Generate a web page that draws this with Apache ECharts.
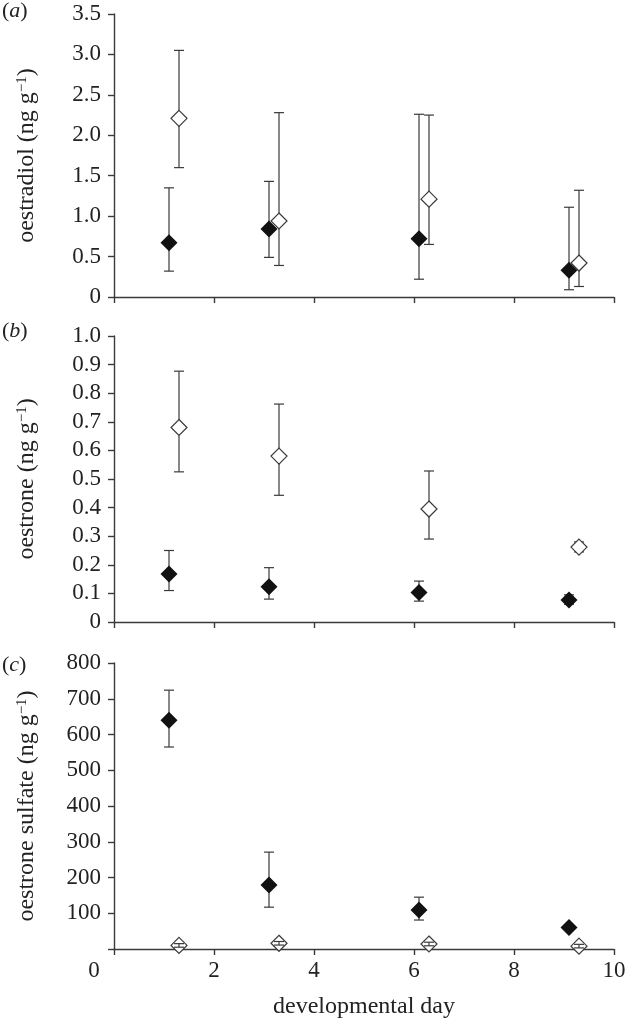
<!DOCTYPE html>
<html>
<head>
<meta charset="utf-8">
<script src="https://cdn.jsdelivr.net/npm/echarts@6/dist/echarts.min.js"></script>
<style>
  html, body { margin: 0; padding: 0; background: #fff; }
  #chart { width: 634px; height: 1020px; }
</style>
</head>
<body>
<div id="chart"></div>
<script>
// sampling days (filled and open diamonds are offset slightly)
const filledDays = [1.1, 3.1, 6.1, 9.1];
const openDays = [1.3, 3.3, 6.3, 9.3];

// (a) oestradiol, ng/g
const e2Filled = [0.67, 0.84, 0.72, 0.33];
const e2FilledLo = [0.32, 0.49, 0.22, 0.09];
const e2FilledHi = [1.35, 1.43, 2.26, 1.11];
const e2Open = [2.21, 0.94, 1.21, 0.42];
const e2OpenLo = [1.6, 0.39, 0.65, 0.13];
const e2OpenHi = [3.05, 2.28, 2.25, 1.32];

// (b) oestrone, ng/g
const e1Filled = [0.168, 0.123, 0.103, 0.077];
const e1FilledLo = [0.11, 0.08, 0.073, 0.062];
const e1FilledHi = [0.25, 0.19, 0.143, 0.095];
const e1Open = [0.68, 0.58, 0.395, 0.262];
const e1OpenLo = [0.525, 0.443, 0.29, 0.245];
const e1OpenHi = [0.877, 0.762, 0.528, 0.28];

// (c) oestrone sulfate, ng/g
const e1sFilled = [640, 179, 109, 60];
const e1sFilledLo = [565, 117, 81, 52];
const e1sFilledHi = [724, 271, 145, 66];
const e1sOpen = [10, 16, 14, 8];
const e1sOpenLo = [5, 11, 9, 3];
const e1sOpenHi = [15, 21, 19, 13];

const FONT = 'Liberation Serif';
const FS = 23;       // tick labels
const FS_NAME = 24;  // axis titles
const TXT = '#222';
const LINE = '#3a3a3a';

const chart = echarts.init(document.getElementById('chart'));

function zip3(x, lo, hi) {
  return x.map((v, i) => [v, lo[i], hi[i]]);
}
function zip2(x, y) {
  return x.map((v, i) => [v, y[i]]);
}

// vertical error bar with caps
function renderErr(params, api) {
  const x = api.value(0);
  const lo = api.coord([x, api.value(1)]);
  const hi = api.coord([x, api.value(2)]);
  const w = 5;
  const st = { stroke: LINE, lineWidth: 1.2 };
  return {
    type: 'group',
    children: [
      { type: 'line', shape: { x1: lo[0], y1: lo[1], x2: hi[0], y2: hi[1] }, style: st },
      { type: 'line', shape: { x1: lo[0] - w, y1: lo[1], x2: lo[0] + w, y2: lo[1] }, style: st },
      { type: 'line', shape: { x1: hi[0] - w, y1: hi[1], x2: hi[0] + w, y2: hi[1] }, style: st }
    ]
  };
}

const grids = [
  { left: 114, right: 20, top: 14, height: 283 },
  { left: 114, right: 20, top: 336, height: 286 },
  { left: 114, right: 20, top: 663, height: 286 }
];

function xAxisFor(i, last) {
  return {
    type: 'value', gridIndex: i, min: 0, max: 10, interval: 2,
    axisLine: { lineStyle: { color: LINE, width: 1.4 } },
    axisTick: { show: true, length: 6, lineStyle: { color: LINE, width: 1.4 } },
    splitLine: { show: false },
    axisLabel: last ? {
      show: true, margin: 10, fontFamily: FONT, fontSize: FS, color: TXT,
      formatter: v => v === 0 ? '{z|0}' : String(v),
      rich: { z: { fontFamily: FONT, fontSize: FS, color: TXT, padding: [0, 40, 0, 0] } }
    } : { show: false },
    name: last ? 'developmental day' : '',
    nameLocation: 'middle', nameGap: 46,
    nameTextStyle: { fontFamily: FONT, fontSize: FS_NAME, color: TXT }
  };
}

const nameRich = {
  n: { fontFamily: FONT, fontSize: FS_NAME, color: TXT },
  s: { fontFamily: FONT, fontSize: 15, color: TXT, verticalAlign: 'top' }
};

function yAxisFor(i, min, max, interval, fmt, name) {
  return {
    type: 'value', gridIndex: i, min: min, max: max, interval: interval,
    axisLine: { show: true, lineStyle: { color: LINE, width: 1.4 } },
    axisTick: { show: true, length: 6, lineStyle: { color: LINE, width: 1.4 } },
    splitLine: { show: false },
    axisLabel: { margin: 13, fontFamily: FONT, fontSize: FS, color: TXT, formatter: fmt },
    name: '{n|' + name + ' (ng g}{s|−1}{n|)}',
    nameLocation: 'middle', nameRotate: 90, nameGap: 75,
    nameTextStyle: { rich: nameRich }
  };
}

function panelSeries(i, fx, fy, flo, fhi, ox, oy, olo, ohi, openBarsOnTop) {
  return [
    {
      type: 'custom', xAxisIndex: i, yAxisIndex: i, renderItem: renderErr,
      encode: { x: 0, y: [1, 2] }, data: zip3(fx, flo, fhi), z: 2, silent: true
    },
    {
      type: 'custom', xAxisIndex: i, yAxisIndex: i, renderItem: renderErr,
      encode: { x: 0, y: [1, 2] }, data: zip3(ox, olo, ohi), z: openBarsOnTop ? 5 : 2, silent: true
    },
    {
      type: 'scatter', xAxisIndex: i, yAxisIndex: i, symbol: 'diamond', symbolSize: 17,
      itemStyle: { color: '#111', opacity: 1 }, data: zip2(fx, fy), z: 3
    },
    {
      type: 'scatter', xAxisIndex: i, yAxisIndex: i, symbol: 'diamond', symbolSize: 16,
      itemStyle: { color: '#fff', borderColor: LINE, borderWidth: 1.2, opacity: 1 },
      data: zip2(ox, oy), z: 3
    }
  ];
}

const panelLabelRich = {
  n: { fontFamily: FONT, fontSize: 22, color: TXT, fontWeight: 'normal' },
  i: { fontFamily: FONT, fontSize: 22, color: TXT, fontWeight: 'normal', fontStyle: 'italic' }
};
function panelLabel(letter, top) {
  return {
    text: '{n|(}{i|' + letter + '}{n|)}', left: 2, top: top, padding: 0,
    textStyle: { fontWeight: 'normal', rich: panelLabelRich }
  };
}

const option = {
  backgroundColor: '#fff',
  animation: false,
  title: [panelLabel('a', 0), panelLabel('b', 320), panelLabel('c', 654)],
  grid: grids,
  xAxis: [xAxisFor(0, false), xAxisFor(1, false), xAxisFor(2, true)],
  yAxis: [
    yAxisFor(0, 0, 3.5, 0.5, v => v === 0 ? '0' : v.toFixed(1), 'oestradiol'),
    yAxisFor(1, 0, 1.0, 0.1, v => v === 0 ? '0' : v.toFixed(1), 'oestrone'),
    yAxisFor(2, 0, 800, 100, v => v === 0 ? '' : String(v), 'oestrone sulfate')
  ],
  series: [].concat(
    panelSeries(0, filledDays, e2Filled, e2FilledLo, e2FilledHi, openDays, e2Open, e2OpenLo, e2OpenHi, false),
    panelSeries(1, filledDays, e1Filled, e1FilledLo, e1FilledHi, openDays, e1Open, e1OpenLo, e1OpenHi, false),
    panelSeries(2, filledDays, e1sFilled, e1sFilledLo, e1sFilledHi, openDays, e1sOpen, e1sOpenLo, e1sOpenHi, true)
  )
};

chart.setOption(option);
</script>
</body>
</html>
